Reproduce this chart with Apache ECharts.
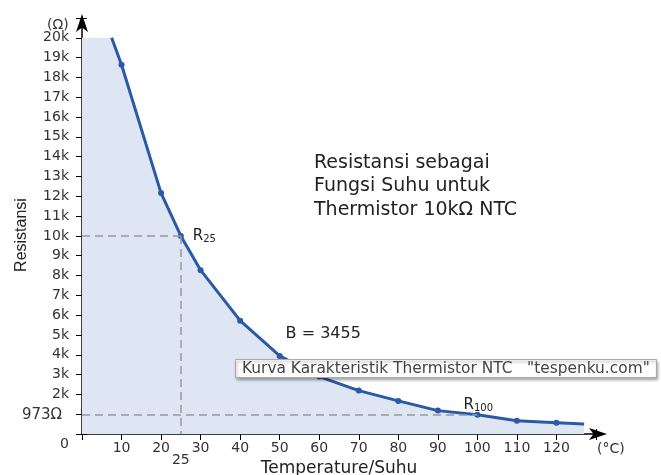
<!DOCTYPE html>
<html>
<head>
<meta charset="utf-8">
<script src="https://cdn.jsdelivr.net/npm/echarts@6/dist/echarts.min.js"></script>
<style>
  html, body { margin: 0; padding: 0; background: #fff; }
  #main { width: 661px; height: 475px; }
</style>
</head>
<body>
<div id="main"></div>
<script>
// suhu (°C) dan resistansi (Ω) dari kurva
var suhu = [7.5, 10, 20, 25, 30, 40, 50, 60, 70, 80, 90, 100, 110, 120, 127];
var resistansi = [20000, 18640, 12160, 10000, 8270, 5720, 3940, 2900, 2190, 1670, 1180, 973, 670, 570, 500];
// titik yang diberi penanda
var titikSuhu = [10, 20, 25, 30, 40, 50, 60, 70, 80, 90, 100, 110, 120];
var judul = ['Resistansi sebagai', 'Fungsi Suhu untuk', 'Thermistor 10kΩ NTC'];
var watermark = 'Kurva Karakteristik Thermistor NTC   "tespenku.com"';

var garis = suhu.map(function (t, i) {
    return {
        value: [t, resistansi[i]],
        symbol: titikSuhu.indexOf(t) >= 0 ? 'circle' : 'none'
    };
});
// area diisi dari sumbu y sampai kurva
var area = [[0, resistansi[0]]].concat(suhu.map(function (t, i) {
    return [t, resistansi[i]];
}));

var myChart = echarts.init(document.getElementById('main'));
var font = 'DejaVu Sans, sans-serif';

// sumbu kedua hanya untuk tick yang menembus garis sumbu
function tickDalam(ax) {
    return Object.assign({
        type: 'value',
        axisLine: { show: false },
        axisLabel: { show: false },
        axisTick: { show: true, inside: true, length: 5, lineStyle: { color: '#000' } },
        splitLine: { show: false }
    }, ax);
}

myChart.setOption({
    animation: false,
    textStyle: { fontFamily: font },
    title: [{
        text: judul.join('\n'),
        left: 309,
        top: 146,
        textStyle: { fontFamily: font, fontSize: 19, fontWeight: 'normal', color: '#222', lineHeight: 23.5 }
    }, {
        text: watermark,
        left: 235,
        top: 359,
        padding: [1, 7, 1, 7],
        backgroundColor: '#fff',
        borderColor: '#aaa',
        borderWidth: 1,
        shadowColor: 'rgba(0,0,0,0.35)',
        shadowBlur: 3,
        shadowOffsetX: 1,
        shadowOffsetY: 2,
        textStyle: { fontFamily: font, fontSize: 15.4, fontWeight: 'normal', color: '#444', lineHeight: 17 }
    }, {
        text: '(Ω)',
        left: 42,
        top: 13,
        textStyle: { fontFamily: font, fontSize: 14, fontWeight: 'normal', color: '#333' }
    }, {
        text: '(°C)',
        left: 592,
        top: 437,
        textStyle: { fontFamily: font, fontSize: 14, fontWeight: 'normal', color: '#333' }
    }],
    grid: { left: 82, right: 65, top: 18, bottom: 41, outerBoundsMode: 'none' },
    xAxis: [{
        type: 'value',
        min: 0,
        max: 130,
        interval: 10,
        name: 'Temperature/Suhu',
        nameLocation: 'middle',
        nameGap: 25,
        nameTextStyle: { fontFamily: font, fontSize: 17, color: '#222' },
        axisLine: {
            lineStyle: { color: '#000', width: 1.5 },
            symbol: ['none', 'arrow'],
            symbolSize: [9, 18],
            symbolOffset: [0, 11]
        },
        axisTick: { show: true, length: 6, lineStyle: { color: '#000' } },
        axisLabel: {
            color: '#333',
            fontSize: 14,
            margin: 7,
            formatter: function (v) {
                return (v === 0 || v === 130) ? '' : v;
            }
        },
        splitLine: { show: false }
    }, tickDalam({ min: 0, max: 130, interval: 10, position: 'bottom' })],
    yAxis: [{
        type: 'value',
        min: 0,
        max: 21000,
        interval: 1000,
        name: 'Resistansi',
        nameLocation: 'middle',
        nameRotate: 90,
        nameGap: 52,
        nameTextStyle: { fontFamily: 'Liberation Sans Narrow, Liberation Sans', fontSize: 16, color: '#222', padding: [0, 18, 0, 0] },
        axisLine: {
            lineStyle: { color: '#000', width: 1.5 },
            symbol: ['none', 'arrow'],
            symbolSize: [9, 18],
            symbolOffset: [0, 4]
        },
        axisTick: { show: true, length: 6, lineStyle: { color: '#000' } },
        axisLabel: {
            color: '#333',
            fontSize: 14,
            margin: 13,
            formatter: function (v) {
                if (v === 0) return '{z|0}';
                if (v === 1000 || v === 21000) return '';
                return (v / 1000) + 'k';
            },
            rich: {
                z: { fontSize: 14, color: '#333', padding: [20, 0, 0, 0] }
            }
        },
        splitLine: { show: false }
    }, tickDalam({ min: 0, max: 21000, interval: 1000, position: 'left' })],
    series: [{
        type: 'line',
        data: area,
        symbol: 'none',
        silent: true,
        lineStyle: { width: 0, opacity: 0 },
        areaStyle: { color: '#dfe6f3', opacity: 1 },
        z: 1
    }, {
        type: 'line',
        data: garis,
        symbolSize: 6,
        itemStyle: { color: '#2a5aa6' },
        lineStyle: { color: '#2a5aa6', width: 3 },
        z: 3,
        markLine: {
            silent: true,
            symbol: 'none',
            animation: false,
            lineStyle: { color: '#999', type: [8, 5], width: 1.5 },
            label: { show: false },
            data: [
                [{ coord: [0, 10000] }, { coord: [25, 10000] }],
                [{ coord: [25, 10000] }, { coord: [25, 0] }],
                [{ coord: [0, 973], label: { show: true, position: 'start', formatter: '973Ω', color: '#333', fontSize: 15, distance: 20 } }, { coord: [100, 973] }]
            ]
        },
        markPoint: {
            silent: true,
            symbol: 'circle',
            symbolSize: 0,
            label: { show: true, color: '#222', fontSize: 15, align: 'left' },
            data: [{
                coord: [28, 10000],
                label: {
                    formatter: 'R{s|25}',
                    offset: [0, 0],
                    rich: { s: { fontSize: 10, verticalAlign: 'bottom', padding: [7, 0, 0, 0] } }
                }
            }, {
                coord: [96.5, 973],
                label: {
                    formatter: 'R{s|100}',
                    offset: [0, -10],
                    rich: { s: { fontSize: 10, verticalAlign: 'bottom', padding: [7, 0, 0, 0] } }
                }
            }, {
                coord: [51.5, 5050],
                label: { formatter: 'B = 3455', fontSize: 16 }
            }, {
                coord: [25, 0],
                label: { formatter: '25', align: 'center', fontSize: 14, color: '#333', offset: [0, 26] }
            }]
        }
    }]
});
</script>
</body>
</html>
